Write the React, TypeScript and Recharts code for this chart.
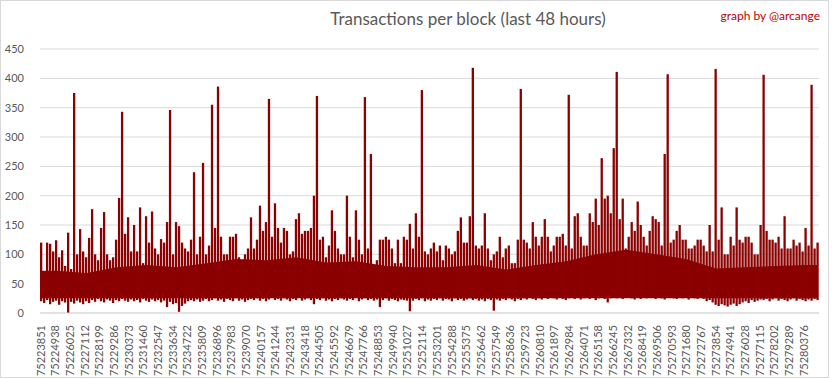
import React from 'react';
import { ComposedChart, Bar, Area, XAxis, YAxis, CartesianGrid } from 'recharts';

const firstBlock = 75223851;
const lastBlock = 75281540;
const blocksPerBucket = 222;

const xTickLabels = [
  75223851, 75224938, 75226025, 75227112, 75228199, 75229286, 75230373, 75231460, 75232547, 75233634,
  75234722, 75235809, 75236896, 75237983, 75239070, 75240157, 75241244, 75242331, 75243418, 75244505,
  75245592, 75246679, 75247766, 75248853, 75249940, 75251027, 75252114, 75253201, 75254288, 75255375,
  75256462, 75257549, 75258636, 75259723, 75260810, 75261897, 75262984, 75264071, 75265158, 75266245,
  75267332, 75268419, 75269506, 75270593, 75271680, 75272767, 75273854, 75274941, 75276028, 75277115,
  75278202, 75279289, 75280376,
];

const yTicks = [0, 50, 100, 150, 200, 250, 300, 350, 400, 450];

// highest transactions per block in each bucket of ~222 blocks
const highs = [
  120, 65, 120, 118, 105, 124, 95, 107, 80, 137,
  75, 375, 100, 143, 105, 95, 128, 177, 100, 90,
  145, 172, 100, 90, 95, 125, 196, 343, 135, 163,
  105, 150, 105, 180, 85, 165, 120, 173, 110, 100,
  126, 120, 155, 346, 100, 155, 148, 120, 110, 105,
  125, 240, 100, 130, 256, 100, 115, 355, 145, 386,
  130, 100, 100, 130, 130, 135, 95, 85, 100, 110,
  163, 110, 125, 183, 140, 155, 365, 130, 187, 145,
  120, 145, 140, 100, 105, 160, 170, 135, 140, 140,
  145, 200, 370, 125, 130, 95, 115, 175, 140, 110,
  100, 100, 200, 130, 95, 175, 125, 100, 368, 110,
  271, 80, 90, 125, 125, 130, 125, 110, 85, 125,
  85, 130, 125, 152, 110, 170, 130, 380, 105, 100,
  110, 120, 105, 115, 90, 115, 110, 100, 105, 140,
  163, 120, 120, 165, 418, 115, 110, 115, 170, 110,
  90, 100, 105, 130, 95, 110, 115, 85, 85, 125,
  382, 125, 120, 110, 155, 130, 115, 130, 160, 130,
  105, 115, 130, 130, 135, 115, 372, 110, 165, 170,
  130, 115, 115, 170, 155, 195, 150, 264, 195, 200,
  170, 281, 411, 160, 195, 110, 130, 155, 140, 190,
  150, 130, 115, 140, 165, 160, 155, 115, 271, 407,
  120, 125, 140, 150, 125, 125, 110, 110, 115, 125,
  125, 115, 105, 150, 105, 416, 125, 180, 100, 100,
  130, 115, 180, 125, 120, 130, 130, 120, 100, 100,
  150, 406, 140, 125, 125, 120, 130, 110, 165, 110,
  110, 125, 115, 120, 105, 145, 115, 389, 110, 120,
];

// lowest transactions per block in each bucket
const lows = [
  20, 17, 22, 15, 19, 21, 14, 20, 18, 0,
  19, 16, 21, 18, 15, 20, 17, 22, 19, 24,
  20, 18, 23, 21, 17, 22, 20, 24, 21, 19,
  23, 20, 22, 18, 24, 21, 19, 23, 20, 22,
  18, 21, 10, 19, 15, 17, 2, 12, 16, 20,
  22, 20, 23, 19, 21, 24, 20, 22, 25, 21,
  23, 19, 24, 22, 20, 25, 21, 23, 19, 22,
  24, 22, 25, 21, 24, 20, 23, 26, 22, 24,
  21, 25, 23, 20, 24, 22, 26, 21, 23, 25,
  22, 15, 24, 22, 25, 21, 23, 20, 24, 22,
  25, 23, 21, 24, 22, 26, 20, 23, 25, 22,
  24, 21, 23, 10, 22, 25, 21, 24, 22, 20,
  23, 22, 21, 3, 21, 24, 22, 25, 20, 23,
  21, 24, 22, 25, 21, 24, 23, 20, 25, 22,
  24, 21, 23, 25, 22, 24, 21, 23, 20, 24,
  22, 4, 23, 21, 24, 22, 25, 23, 20, 24,
  22, 25, 23, 26, 24, 22, 25, 23, 26, 24,
  27, 25, 23, 26, 24, 22, 25, 27, 24, 26,
  23, 25, 27, 24, 26, 22, 25, 27, 24, 18,
  25, 27, 25, 27, 24, 26, 28, 25, 23, 26,
  24, 27, 25, 28, 26, 24, 27, 25, 23, 26,
  28, 25, 24, 27, 25, 26, 23, 27, 25, 24,
  26, 24, 20, 22, 18, 14, 12, 15, 13, 11,
  14, 16, 12, 15, 18, 20, 17, 22, 19, 21,
  23, 22, 24, 20, 23, 25, 21, 24, 22, 20,
  23, 25, 21, 24, 22, 20, 23, 21, 24, 22,
];

// level up to which the dense mass of blocks reaches, per group of 10 buckets
const bodyTops = [
  72, 68, 78, 82, 78, 85, 92, 90, 95, 86,
  88, 80, 78, 78, 82, 74, 82, 88, 100, 108,
  100, 92, 76, 78, 80, 82,
];
const bodyBottom = 25;

type Row = { block: number; range: [number, number]; body?: [number, number] | null };
const data: Row[] = [];
const n = Math.min(highs.length, lows.length);
for (let i = 0; i < n; i++) {
  const g = Math.min(Math.floor(i / 10), bodyTops.length - 1);
  const atGroup = i % 10 === 5 || i === 0 || i === n - 1;
  data.push({
    block: firstBlock + i * blocksPerBucket + blocksPerBucket / 2,
    range: [lows[i], highs[i]],
    body: atGroup ? [bodyBottom, bodyTops[g]] : null,
  });
}

const FONT = 'Lato, "Open Sans", sans-serif';

const XTick = (props: any) => {
  const { x, y, payload } = props;
  return (
    <text
      x={x}
      y={y}
      transform={`rotate(-90 ${x} ${y})`}
      textAnchor="end"
      dominantBaseline="central"
      fontSize={11}
      fill="#595959"
      fontFamily={FONT}
    >
      {payload.value}
    </text>
  );
};

export default function App() {
  return (
    <div style={{ position: 'absolute', left: 0, top: 0, width: 833, height: 379, background: '#fff' }}>
      <div
        style={{
          position: 'absolute', left: 0, top: 0, width: 827, height: 376,
          border: '1px solid #d9d9d9', boxSizing: 'content-box',
        }}
      />
      <div
        style={{
          position: 'absolute', left: 268, top: 8, width: 400, textAlign: 'center',
          fontFamily: FONT, fontSize: 17, color: '#595959', lineHeight: '22px',
        }}
      >
        Transactions per block (last 48 hours)
      </div>
      <div
        style={{
          position: 'absolute', right: 13, top: 8, textAlign: 'right',
          fontFamily: FONT, fontSize: 12, color: '#c00000', lineHeight: '16px',
        }}
      >
        graph by @arcange
      </div>
      <ComposedChart
        width={833}
        height={379}
        data={data}
        margin={{ top: 49, right: 14, bottom: 6, left: 8 }}
        barCategoryGap={0}
        barGap={0}
      >
        <CartesianGrid vertical={false} stroke="#d9d9d9" strokeWidth={1} />
        <XAxis
          dataKey="block"
          type="number"
          domain={[firstBlock, lastBlock]}
          ticks={xTickLabels}
          interval={0}
          allowDataOverflow
          height={60}
          tickLine={false}
          tickMargin={6}
          axisLine={{ stroke: '#d9d9d9' }}
          tick={<XTick />}
        />
        <YAxis
          width={32}
          domain={[0, 450]}
          ticks={yTicks}
          interval={0}
          axisLine={false}
          tickLine={false}
          tickMargin={10}
          tick={{ fontSize: 11, fill: '#595959', fontFamily: FONT }}
        />
        <Area
          dataKey="body"
          type="linear"
          connectNulls
          stroke="none"
          fill="#8b0000"
          fillOpacity={1}
          isAnimationActive={false}
        />
        <Bar
          dataKey="range"
          fill="#8b0000"
          barSize={2.3}
          isAnimationActive={false}
        />
      </ComposedChart>
    </div>
  );
}
